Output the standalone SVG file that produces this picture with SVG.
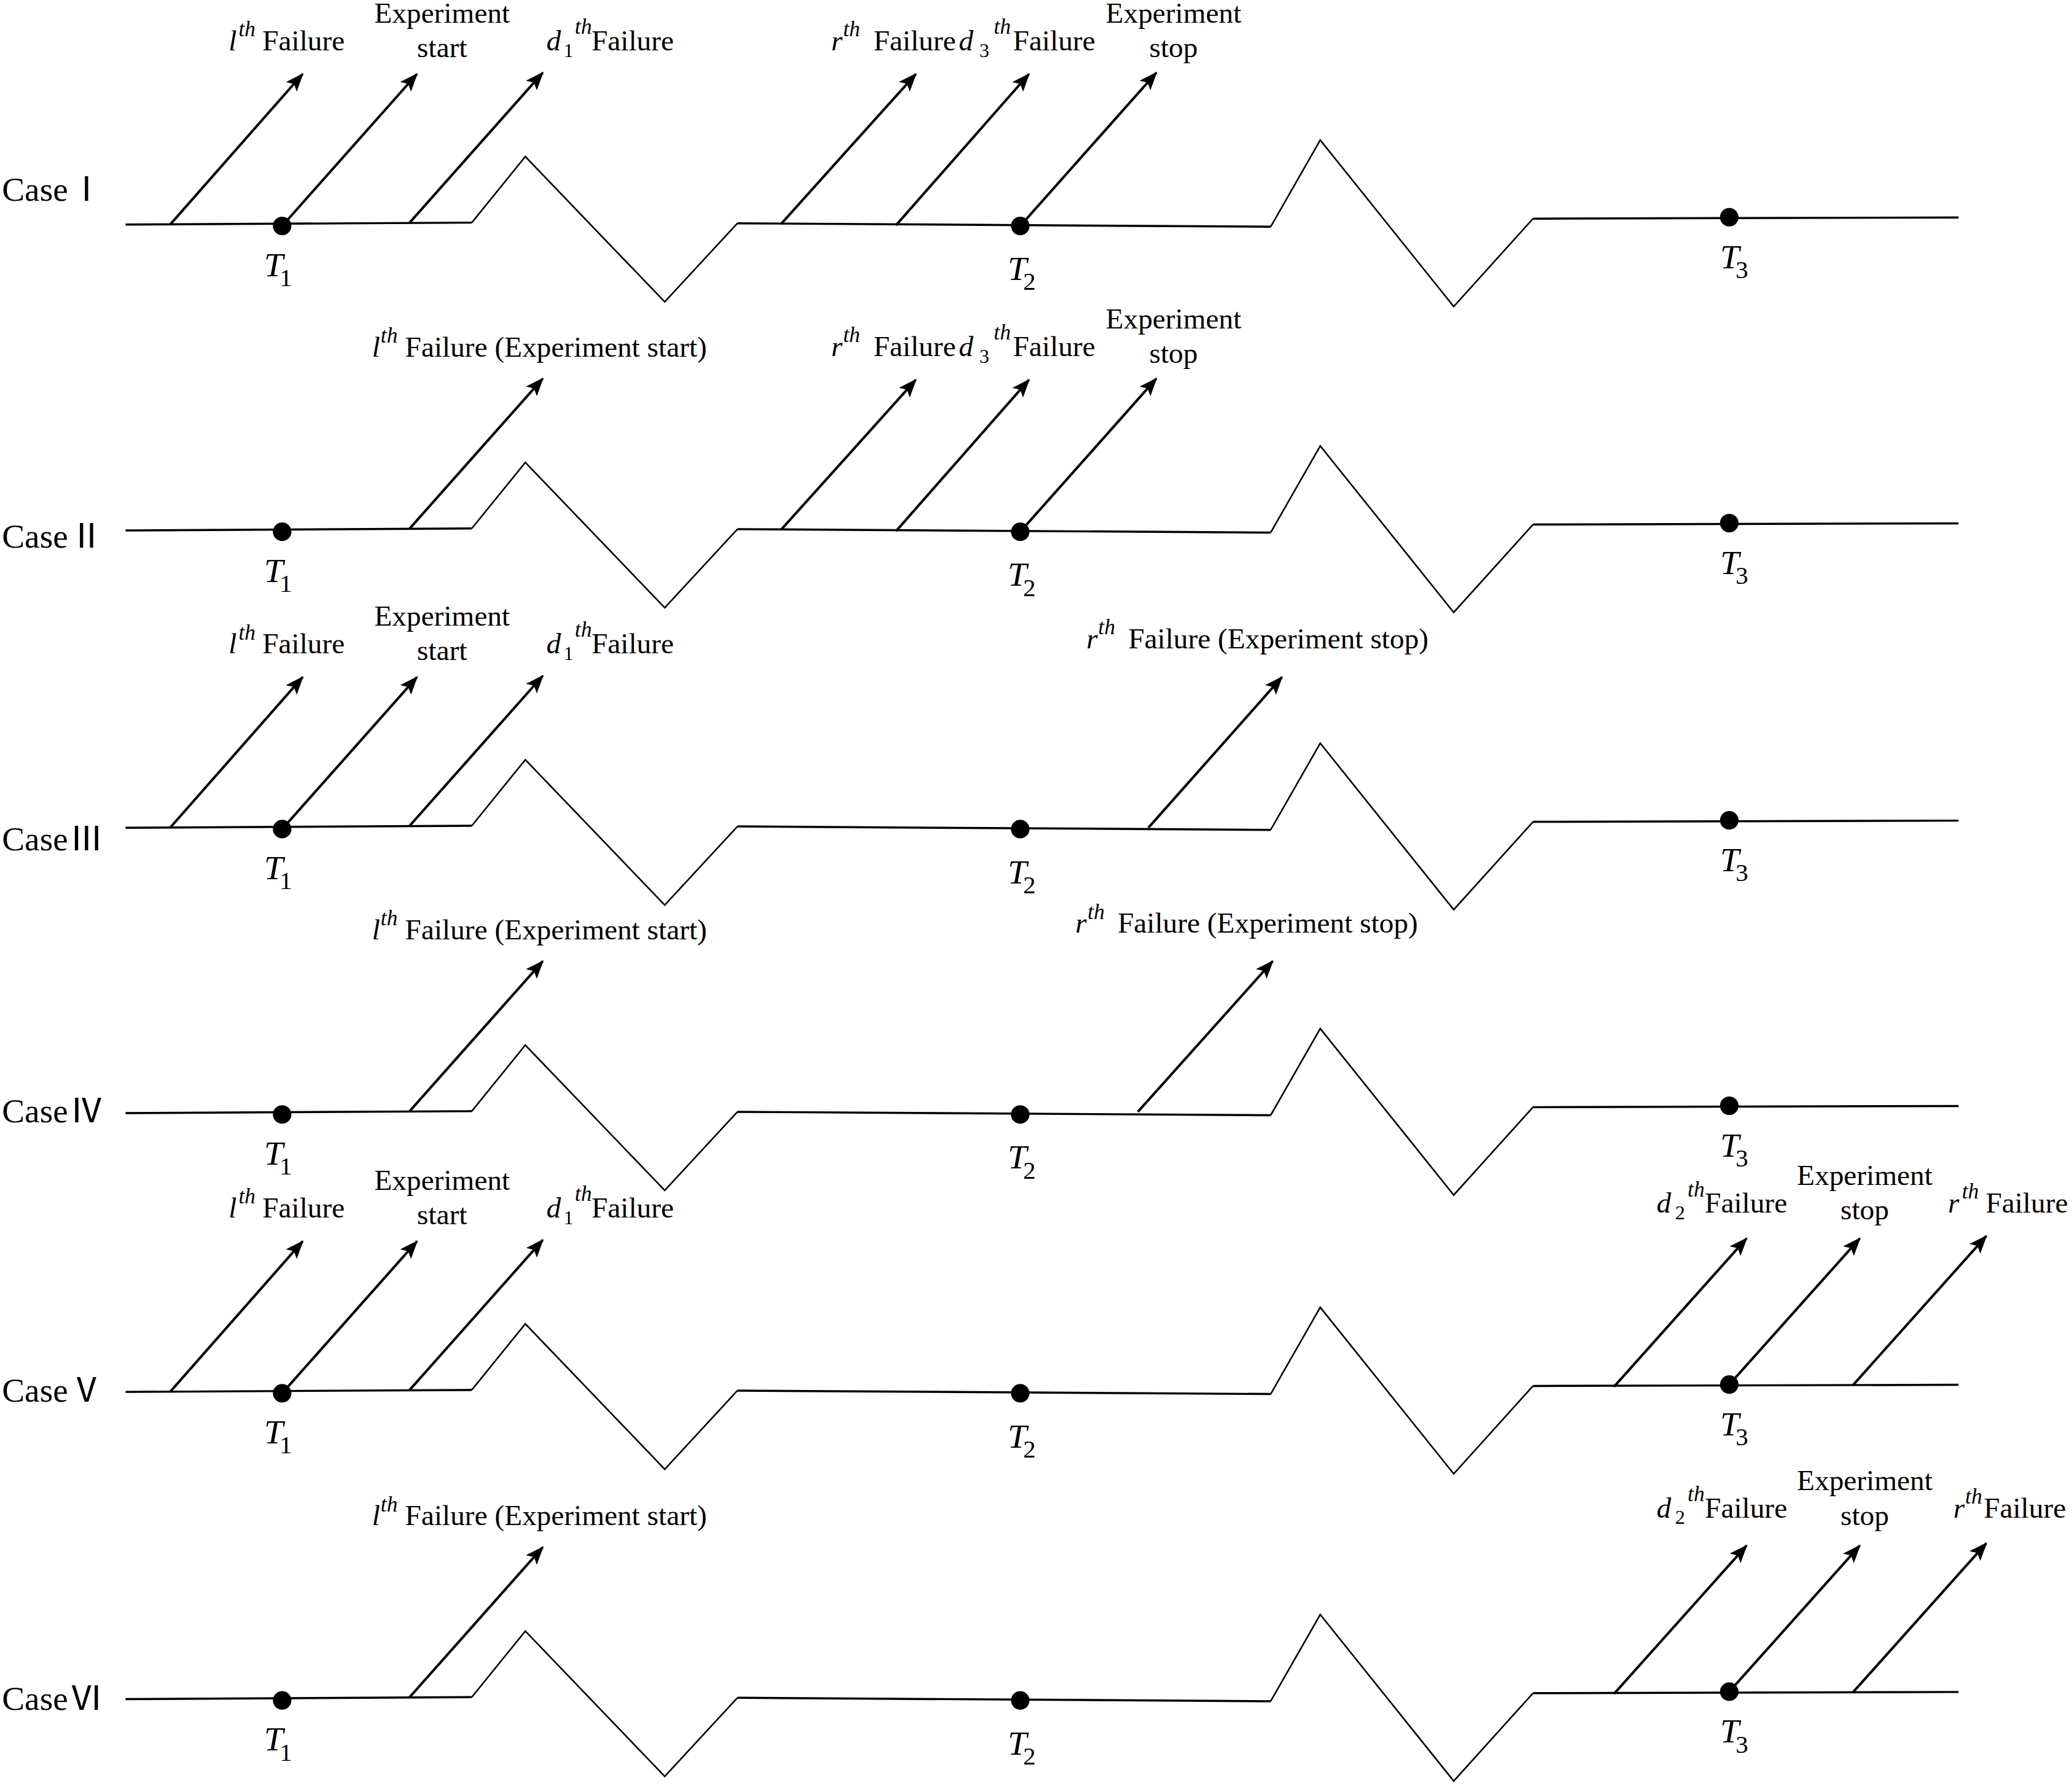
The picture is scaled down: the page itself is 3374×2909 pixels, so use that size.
<svg xmlns="http://www.w3.org/2000/svg" width="3374" height="2909" viewBox="0 0 3374 2909">
<style>
.h{fill:none;stroke:#000;stroke-width:1.6}
.z{fill:none;stroke:#000;stroke-width:1.2;stroke-linejoin:miter}
.a{fill:none;stroke:#000;stroke-width:1.9;marker-end:url(#ah)}
.dot{fill:#000}
text{font-family:"Liberation Serif","Times New Roman",serif;fill:#000}
.lb{font-size:22px}
.it{font-style:italic}
.sp{font-size:16.5px;font-style:italic}
.sb{font-size:15px;font-style:normal}
.T{font-size:26px}
.Tm{font-style:italic}
.Ts{font-size:19px;font-style:normal}
.case{font-size:25.7px}
.rn{font-family:"Noto Sans CJK SC",sans-serif}
</style>
<defs>
<marker id="ah" markerUnits="userSpaceOnUse" viewBox="0 0 14 11" markerWidth="14" markerHeight="11" refX="13" refY="5.5" orient="auto">
<path d="M0,0 L14,5.5 L0,11 L3,5.5 z" fill="#000"/>
</marker>
</defs>
<rect width="3374" height="2909" fill="#fff"/>
<g transform="scale(2.152)">

<!-- Case I -->
<g id="case1">
<text class="case" x="1.5" y="152">Case<tspan class="rn" x="52.6">Ⅰ</tspan></text>
<g id="case1-line">
<path class="z" d="M357,168.5 L397.5,118.5 L503,228.5 L558,169 M961.5,171.6 L999,106 L1100,232 L1160,165.5"/>
<path class="h" d="M95,170 L357,168.5 M558,169 L961.5,171.6 M1160,165.5 L1482,164.6"/>
</g>
<g id="case1-connectors">
<line class="a" x1="128.7" y1="170" x2="229" y2="56"/>
<line class="a" x1="213.5" y1="171" x2="315.5" y2="56"/>
<line class="a" x1="310" y1="168.5" x2="410.7" y2="55"/>
<line class="a" x1="591" y1="169.5" x2="693" y2="56"/>
<line class="a" x1="678" y1="170.5" x2="778.6" y2="56"/>
<line class="a" x1="772" y1="171" x2="875" y2="55"/>
</g>
<g id="case1-T1"><circle class="dot" cx="213.5" cy="171" r="7"/><text class="T"><tspan class="Tm" x="199.8" y="209">T</tspan><tspan class="Ts" x="211.5" y="216.5">1</tspan></text></g>
<g id="case1-T2"><circle class="dot" cx="772" cy="171" r="7"/><text class="T"><tspan class="Tm" x="762.5" y="212">T</tspan><tspan class="Ts" x="774.2" y="219.5">2</tspan></text></g>
<g id="case1-T3"><circle class="dot" cx="1308.5" cy="164.4" r="7"/><text class="T"><tspan class="Tm" x="1301.6" y="203">T</tspan><tspan class="Ts" x="1313.3" y="210.5">3</tspan></text></g>
<text class="lb"><tspan class="it" x="173" y="38">l</tspan><tspan class="sp" x="180.5" y="27.5">th</tspan><tspan x="198.5" y="38">Failure</tspan></text>
<text class="lb" text-anchor="middle"><tspan x="334.5" y="17">Experiment</tspan><tspan x="334.5" y="43">start</tspan></text>
<text class="lb"><tspan class="it" x="413.5" y="38">d</tspan><tspan class="sb" x="426.5" y="43">1</tspan><tspan class="sp" x="435" y="25.6">th</tspan><tspan x="447.6" y="38">Failure</tspan></text>
<text class="lb"><tspan class="it" x="629" y="38">r</tspan><tspan class="sp" x="638" y="27.5">th</tspan><tspan x="661" y="38">Failure</tspan></text>
<text class="lb"><tspan class="it" x="725.5" y="38">d</tspan><tspan class="sb" x="741" y="43">3</tspan><tspan class="sp" x="752" y="25.6">th</tspan><tspan x="766.5" y="38">Failure</tspan></text>
<text class="lb" text-anchor="middle"><tspan x="888" y="17">Experiment</tspan><tspan x="888" y="43">stop</tspan></text>
</g>

<!-- Case II -->
<g id="case2" transform="translate(0,231.5)">
<text class="case" x="1.5" y="183">Case<tspan class="rn" x="52.6">Ⅱ</tspan></text>
<g id="case2-line">
<path class="z" d="M357,168.5 L397.5,118.5 L503,228.5 L558,169 M961.5,171.6 L999,106 L1100,232 L1160,165.5"/>
<path class="h" d="M95,170 L357,168.5 M558,169 L961.5,171.6 M1160,165.5 L1482,164.6"/>
</g>
<g id="case2-connectors">
<line class="a" x1="310" y1="168.5" x2="410.7" y2="55"/>
<line class="a" x1="591" y1="169.5" x2="693" y2="56"/>
<line class="a" x1="678" y1="170.5" x2="778.6" y2="56"/>
<line class="a" x1="772" y1="171" x2="875" y2="55"/>
</g>
<g id="case2-T1"><circle class="dot" cx="213.5" cy="171" r="7"/><text class="T"><tspan class="Tm" x="199.8" y="209">T</tspan><tspan class="Ts" x="211.5" y="216.5">1</tspan></text></g>
<g id="case2-T2"><circle class="dot" cx="772" cy="171" r="7"/><text class="T"><tspan class="Tm" x="762.5" y="212">T</tspan><tspan class="Ts" x="774.2" y="219.5">2</tspan></text></g>
<g id="case2-T3"><circle class="dot" cx="1308.5" cy="164.4" r="7"/><text class="T"><tspan class="Tm" x="1301.6" y="203">T</tspan><tspan class="Ts" x="1313.3" y="210.5">3</tspan></text></g>
<text class="lb"><tspan class="it" x="281.5" y="38.5">l</tspan><tspan class="sp" x="288" y="28">th</tspan><tspan x="306.5" y="38.5">Failure (Experiment start)</tspan></text>
<text class="lb"><tspan class="it" x="629" y="38">r</tspan><tspan class="sp" x="638" y="27.5">th</tspan><tspan x="661" y="38">Failure</tspan></text>
<text class="lb"><tspan class="it" x="725.5" y="38">d</tspan><tspan class="sb" x="741" y="43">3</tspan><tspan class="sp" x="752" y="25.6">th</tspan><tspan x="766.5" y="38">Failure</tspan></text>
<text class="lb" text-anchor="middle"><tspan x="888" y="17">Experiment</tspan><tspan x="888" y="43">stop</tspan></text>
</g>

<!-- Case III -->
<g id="case3" transform="translate(0,456.5)">
<text class="case" x="1.5" y="187">Case<tspan class="rn" x="52.6">Ⅲ</tspan></text>
<g id="case3-line">
<path class="z" d="M357,168.5 L397.5,118.5 L503,228.5 L558,169 M961.5,171.6 L999,106 L1100,232 L1160,165.5"/>
<path class="h" d="M95,170 L357,168.5 M558,169 L961.5,171.6 M1160,165.5 L1482,164.6"/>
</g>
<g id="case3-connectors">
<line class="a" x1="128.7" y1="170" x2="229" y2="56"/>
<line class="a" x1="213.5" y1="171" x2="315.5" y2="56"/>
<line class="a" x1="310" y1="168.5" x2="410.7" y2="55"/>
<line class="a" x1="869" y1="170" x2="970" y2="56"/>
</g>
<g id="case3-T1"><circle class="dot" cx="213.5" cy="171" r="7"/><text class="T"><tspan class="Tm" x="199.8" y="209">T</tspan><tspan class="Ts" x="211.5" y="216.5">1</tspan></text></g>
<g id="case3-T2"><circle class="dot" cx="772" cy="171" r="7"/><text class="T"><tspan class="Tm" x="762.5" y="212">T</tspan><tspan class="Ts" x="774.2" y="219.5">2</tspan></text></g>
<g id="case3-T3"><circle class="dot" cx="1308.5" cy="164.4" r="7"/><text class="T"><tspan class="Tm" x="1301.6" y="203">T</tspan><tspan class="Ts" x="1313.3" y="210.5">3</tspan></text></g>
<text class="lb"><tspan class="it" x="173" y="38">l</tspan><tspan class="sp" x="180.5" y="27.5">th</tspan><tspan x="198.5" y="38">Failure</tspan></text>
<text class="lb" text-anchor="middle"><tspan x="334.5" y="17">Experiment</tspan><tspan x="334.5" y="43">start</tspan></text>
<text class="lb"><tspan class="it" x="413.5" y="38">d</tspan><tspan class="sb" x="426.5" y="43">1</tspan><tspan class="sp" x="435" y="25.6">th</tspan><tspan x="447.6" y="38">Failure</tspan></text>
<text class="lb"><tspan class="it" x="822" y="34">r</tspan><tspan class="sp" x="831" y="23.5">th</tspan><tspan x="853.7" y="34">Failure (Experiment stop)</tspan></text>
</g>

<!-- Case IV -->
<g id="case4" transform="translate(0,672.5)">
<text class="case" x="1.5" y="177">Case<tspan class="rn" x="52.6">Ⅳ</tspan></text>
<g id="case4-line">
<path class="z" d="M357,168.5 L397.5,118.5 L503,228.5 L558,169 M961.5,171.6 L999,106 L1100,232 L1160,165.5"/>
<path class="h" d="M95,170 L357,168.5 M558,169 L961.5,171.6 M1160,165.5 L1482,164.6"/>
</g>
<g id="case4-connectors">
<line class="a" x1="310" y1="168.5" x2="410.7" y2="55"/>
<line class="a" x1="861" y1="169" x2="963" y2="55"/>
</g>
<g id="case4-T1"><circle class="dot" cx="213.5" cy="171" r="7"/><text class="T"><tspan class="Tm" x="199.8" y="209">T</tspan><tspan class="Ts" x="211.5" y="216.5">1</tspan></text></g>
<g id="case4-T2"><circle class="dot" cx="772" cy="171" r="7"/><text class="T"><tspan class="Tm" x="762.5" y="212">T</tspan><tspan class="Ts" x="774.2" y="219.5">2</tspan></text></g>
<g id="case4-T3"><circle class="dot" cx="1308.5" cy="164.4" r="7"/><text class="T"><tspan class="Tm" x="1301.6" y="203">T</tspan><tspan class="Ts" x="1313.3" y="210.5">3</tspan></text></g>
<text class="lb"><tspan class="it" x="281.5" y="38.5">l</tspan><tspan class="sp" x="288" y="28">th</tspan><tspan x="306.5" y="38.5">Failure (Experiment start)</tspan></text>
<text class="lb"><tspan class="it" x="813.7" y="33.4">r</tspan><tspan class="sp" x="823" y="23">th</tspan><tspan x="845.7" y="33.4">Failure (Experiment stop)</tspan></text>
</g>

<!-- Case V -->
<g id="case5" transform="translate(0,883.5)">
<text class="case" x="1.5" y="177.5">Case<tspan class="rn" x="52.6">Ⅴ</tspan></text>
<g id="case5-line">
<path class="z" d="M357,168.5 L397.5,118.5 L503,228.5 L558,169 M961.5,171.6 L999,106 L1100,232 L1160,165.5"/>
<path class="h" d="M95,170 L357,168.5 M558,169 L961.5,171.6 M1160,165.5 L1482,164.6"/>
</g>
<g id="case5-connectors">
<line class="a" x1="128.7" y1="170" x2="229" y2="56"/>
<line class="a" x1="213.5" y1="171" x2="315.5" y2="56"/>
<line class="a" x1="310" y1="168.5" x2="410.7" y2="55"/>
<line class="a" x1="1221.3" y1="166" x2="1321.6" y2="53.8"/>
<line class="a" x1="1308.5" y1="164.4" x2="1407.3" y2="53.8"/>
<line class="a" x1="1402" y1="165" x2="1503" y2="52"/>
</g>
<g id="case5-T1"><circle class="dot" cx="213.5" cy="171" r="7"/><text class="T"><tspan class="Tm" x="199.8" y="209">T</tspan><tspan class="Ts" x="211.5" y="216.5">1</tspan></text></g>
<g id="case5-T2"><circle class="dot" cx="772" cy="171" r="7"/><text class="T"><tspan class="Tm" x="762.5" y="212">T</tspan><tspan class="Ts" x="774.2" y="219.5">2</tspan></text></g>
<g id="case5-T3"><circle class="dot" cx="1308.5" cy="164.4" r="7"/><text class="T"><tspan class="Tm" x="1301.6" y="203">T</tspan><tspan class="Ts" x="1313.3" y="210.5">3</tspan></text></g>
<text class="lb"><tspan class="it" x="173" y="38">l</tspan><tspan class="sp" x="180.5" y="27.5">th</tspan><tspan x="198.5" y="38">Failure</tspan></text>
<text class="lb" text-anchor="middle"><tspan x="334.5" y="17">Experiment</tspan><tspan x="334.5" y="43">start</tspan></text>
<text class="lb"><tspan class="it" x="413.5" y="38">d</tspan><tspan class="sb" x="426.5" y="43">1</tspan><tspan class="sp" x="435" y="25.6">th</tspan><tspan x="447.6" y="38">Failure</tspan></text>
<text class="lb"><tspan class="it" x="1253.5" y="34.3">d</tspan><tspan class="sb" x="1267.5" y="39.3">2</tspan><tspan class="sp" x="1277" y="22">th</tspan><tspan x="1290" y="34.3">Failure</tspan></text>
<text class="lb" text-anchor="middle"><tspan x="1411" y="13.5">Experiment</tspan><tspan x="1411" y="39.5">stop</tspan></text>
<text class="lb"><tspan class="it" x="1474" y="34.3">r</tspan><tspan class="sp" x="1484.5" y="23.8">th</tspan><tspan x="1502.5" y="34.3">Failure</tspan></text>
</g>

<!-- Case VI -->
<g id="case6" transform="translate(0,1116)">
<text class="case" x="1.5" y="178">Case<tspan class="rn" x="52.6">Ⅵ</tspan></text>
<g id="case6-line">
<path class="z" d="M357,168.5 L397.5,118.5 L503,228.5 L558,169 M961.5,171.6 L999,106 L1100,232 L1160,165.5"/>
<path class="h" d="M95,170 L357,168.5 M558,169 L961.5,171.6 M1160,165.5 L1482,164.6"/>
</g>
<g id="case6-connectors">
<line class="a" x1="310" y1="168.5" x2="410.7" y2="55"/>
<line class="a" x1="1221.3" y1="166" x2="1321.6" y2="53.8"/>
<line class="a" x1="1308.5" y1="164.4" x2="1407.3" y2="53.8"/>
<line class="a" x1="1402" y1="165" x2="1503" y2="52"/>
</g>
<g id="case6-T1"><circle class="dot" cx="213.5" cy="171" r="7"/><text class="T"><tspan class="Tm" x="199.8" y="209">T</tspan><tspan class="Ts" x="211.5" y="216.5">1</tspan></text></g>
<g id="case6-T2"><circle class="dot" cx="772" cy="171" r="7"/><text class="T"><tspan class="Tm" x="762.5" y="212">T</tspan><tspan class="Ts" x="774.2" y="219.5">2</tspan></text></g>
<g id="case6-T3"><circle class="dot" cx="1308.5" cy="164.4" r="7"/><text class="T"><tspan class="Tm" x="1301.6" y="203">T</tspan><tspan class="Ts" x="1313.3" y="210.5">3</tspan></text></g>
<text class="lb"><tspan class="it" x="281.5" y="38.5">l</tspan><tspan class="sp" x="288" y="28">th</tspan><tspan x="306.5" y="38.5">Failure (Experiment start)</tspan></text>
<text class="lb"><tspan class="it" x="1253.5" y="32.5">d</tspan><tspan class="sb" x="1267.5" y="37.5">2</tspan><tspan class="sp" x="1277" y="20.2">th</tspan><tspan x="1290" y="32.5">Failure</tspan></text>
<text class="lb" text-anchor="middle"><tspan x="1411" y="12">Experiment</tspan><tspan x="1411" y="38.5">stop</tspan></text>
<text class="lb"><tspan class="it" x="1478" y="32.5">r</tspan><tspan class="sp" x="1487" y="22">th</tspan><tspan x="1501" y="32.5">Failure</tspan></text>
</g>

</g>
</svg>
